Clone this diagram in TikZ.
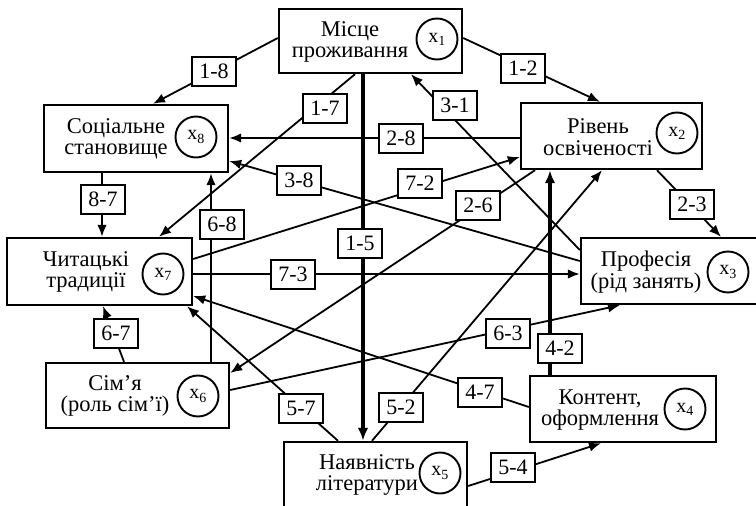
\documentclass[tikz,border=0pt]{standalone}
\usepackage{fontspec}
\setmainfont{Liberation Serif}
\usetikzlibrary{arrows.meta}
\begin{document}
\begin{tikzpicture}[x=1pt,y=-1pt,
  box/.style={draw, line width=2.4pt, rectangle, inner sep=0pt},
  txt/.style={align=center, inner sep=0pt, font=\fontsize{22.5}{21.5}\selectfont},
  circ/.style={draw, circle, line width=1.9pt, minimum size=41pt, inner sep=0pt, font=\fontsize{20}{20}\selectfont},
  lab/.style={draw, fill=white, line width=2pt, minimum width=44pt, minimum height=29pt, inner sep=0pt, font=\fontsize{22}{22}\selectfont},
  con/.style={line width=1.8pt, -{Latex[length=12pt,width=9.5pt]}},
  heavy/.style={line width=3.2pt, -{Latex[length=13pt,width=10.5pt]}}]
\fill[white] (0,0) rectangle (756,506);
\useasboundingbox (0,0) rectangle (756,506);
% boxes
\node[box, minimum width=183pt, minimum height=64pt] (b1) at (370.5,41) {};
\node[txt] (t1) at (350,42) {Місце\\проживання};
\node[circ] (c1) at (437,39) {x\textsubscript{1}};
\node[box, minimum width=181pt, minimum height=66pt] (b2) at (611.5,136) {};
\node[txt] (t2) at (598,137) {Рівень\\освіченості};
\node[circ] (c2) at (677,133) {x\textsubscript{2}};
\node[box, minimum width=180pt, minimum height=66pt] (b3) at (671,271) {};
\node[txt] (t3) at (646,272) {Професія\\(рід занять)};
\node[circ] (c3) at (728,272) {x\textsubscript{3}};
\node[box, minimum width=186pt, minimum height=66pt] (b4) at (623,409) {};
\node[txt] (t4) at (600,410) {Контент,\\оформлення};
\node[circ] (c4) at (685,409) {x\textsubscript{4}};
\node[box, minimum width=183pt, minimum height=66pt] (b5) at (375.5,475) {};
\node[txt] (t5) at (367,475) {Наявність\\літератури};
\node[circ] (c5) at (440,473) {x\textsubscript{5}};
\node[box, minimum width=183pt, minimum height=65pt] (b6) at (137.5,395.5) {};
\node[txt] (t6) at (115,396) {Сім’я\\(роль сім’ї)};
\node[circ] (c6) at (198,396) {x\textsubscript{6}};
\node[box, minimum width=185pt, minimum height=67pt] (b7) at (99.5,271.5) {};
\node[txt] (t7) at (86,272) {Читацькі\\традиції};
\node[circ] (c7) at (163,274) {x\textsubscript{7}};
\node[box, minimum width=184pt, minimum height=67pt] (b8) at (136,138.5) {};
\node[txt] (t8) at (116,139) {Соціальне\\становище};
\node[circ] (c8) at (196,137) {x\textsubscript{8}};
% connectors
\draw[con] (b1.west |- 0,38) -- (b8.north -| 153,0);
\draw[con] (b1.east |- 0,38) -- (b2.north -| 600,0);
\draw[con] (b1.south -| 355,0) -- (b7.north -| 159,0);
\draw[heavy] (b1.south -| 363,0) -- (b5.north -| 363,0);
\draw[con] (b3.west |- 0,250) -- (b1.south -| 411,0);
\draw[con] (b2.west |- 0,138) -- (b8.east |- 0,138);
\draw[con] (b7.east |- 0,259) -- (b2.west |- 0,157);
\draw[con] (b3.west |- 0,261) -- (b8.east |- 0,161);
\draw[con] (b2.south -| 535,0) -- (b6.east |- 0,373);
\draw[con] (b6.north -| 211,0) -- (b8.south -| 211,0);
\draw[con] (b8.south -| 102,0) -- (b7.north -| 102,0);
\draw[con] (b7.east |- 0,274) -- (b3.west |- 0,274);
\draw[con] (b6.north -| 124,0) -- (b7.south -| 103,0);
\draw[con] (b5.north -| 338,0) -- (b7.south -| 187,0);
\draw[con] (b4.west |- 0,407) -- (b7.east |- 0,296);
\draw[con] (b5.north -| 372,0) -- (b2.south -| 602,0);
\draw[heavy] (b4.north -| 550,0) -- (b2.south -| 550,0);
\draw[con] (b6.east |- 0,390) -- (b3.south -| 620,0);
\draw[con] (b2.south -| 657,0) -- (b3.north -| 721,0);
\draw[con] (b5.east |- 0,486) -- (b4.south -| 601,0);
% labels
\node[lab] (l18) at (214,71) {1-8};
\node[lab] (l12) at (523,68) {1-2};
\node[lab] (l17) at (325,108) {1-7};
\node[lab] (l15) at (360,243) {1-5};
\node[lab] (l31) at (455,105) {3-1};
\node[lab] (l28) at (401,138) {2-8};
\node[lab] (l72) at (420,183) {7-2};
\node[lab] (l38) at (299,180) {3-8};
\node[lab] (l26) at (478,205) {2-6};
\node[lab] (l68) at (222,224) {6-8};
\node[lab] (l87) at (103,199) {8-7};
\node[lab] (l73) at (293,274) {7-3};
\node[lab] (l67) at (116,333) {6-7};
\node[lab] (l57) at (301,408) {5-7};
\node[lab] (l47) at (480,392) {4-7};
\node[lab] (l52) at (401,407) {5-2};
\node[lab] (l42) at (560,348) {4-2};
\node[lab] (l63) at (508,333) {6-3};
\node[lab] (l23) at (692,204) {2-3};
\node[lab] (l54) at (513,467) {5-4};
\end{tikzpicture}
\end{document}
